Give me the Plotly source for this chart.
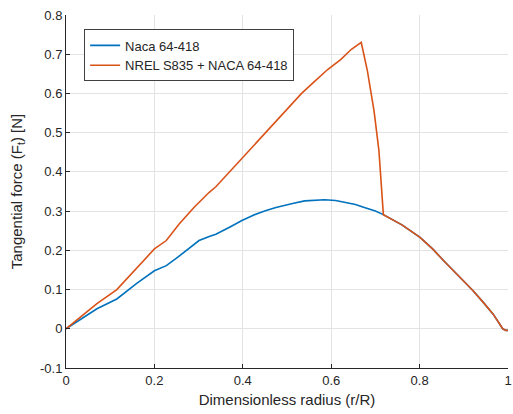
import plotly.graph_objects as go

# Naca 64-418
r_naca = [0, 0.04, 0.07, 0.115, 0.16, 0.2, 0.227, 0.25, 0.271, 0.301, 0.324, 0.339,
          0.37, 0.398, 0.425, 0.451, 0.475, 0.495, 0.515, 0.54, 0.565, 0.585, 0.61,
          0.63, 0.655, 0.675, 0.7, 0.718, 0.76, 0.801, 0.83, 0.854, 0.89, 0.921,
          0.945, 0.966, 0.98, 0.988, 0.995, 1.0]
ft_naca = [0, 0.028, 0.051, 0.076, 0.116, 0.148, 0.161, 0.18, 0.199, 0.225, 0.235, 0.241,
           0.259, 0.276, 0.290, 0.301, 0.309, 0.315, 0.320, 0.326, 0.328, 0.329, 0.327,
           0.322, 0.317, 0.309, 0.300, 0.291, 0.265, 0.233, 0.203, 0.174, 0.134, 0.097,
           0.066, 0.038, 0.014, 0.0, -0.004, -0.004]

# NREL S835 + NACA 64-418
r_hyb = [0, 0.04, 0.07, 0.115, 0.16, 0.2, 0.227, 0.256, 0.29, 0.324, 0.339, 0.37,
         0.402, 0.43, 0.451, 0.475, 0.495, 0.515, 0.533, 0.56, 0.592, 0.622, 0.645,
         0.668, 0.682, 0.697, 0.708, 0.718, 0.76, 0.801, 0.83, 0.854, 0.89, 0.921,
         0.945, 0.966, 0.98, 0.988, 0.995, 1.0]
ft_hyb = [0, 0.036, 0.064, 0.100, 0.155, 0.2035, 0.225, 0.267, 0.31, 0.348, 0.362, 0.40,
          0.441, 0.474, 0.500, 0.528, 0.555, 0.578, 0.600, 0.628, 0.661, 0.687, 0.712,
          0.730, 0.657, 0.555, 0.454, 0.291, 0.265, 0.233, 0.203, 0.174, 0.134, 0.097,
          0.066, 0.038, 0.014, 0.0, -0.004, -0.004]

x_ticks = [0, 0.2, 0.4, 0.6, 0.8, 1]
x_labels = ["0", "0.2", "0.4", "0.6", "0.8", "1"]
y_ticks = [-0.1, 0, 0.1, 0.2, 0.3, 0.4, 0.5, 0.6, 0.7, 0.8]
y_labels = ["-0.1", "0", "0.1", "0.2", "0.3", "0.4", "0.5", "0.6", "0.7", "0.8"]

fig = go.Figure()
fig.add_trace(go.Scatter(x=r_naca, y=ft_naca, mode="lines", name="Naca 64-418",
                         line=dict(color="#0072BD", width=1.6)))
fig.add_trace(go.Scatter(x=r_hyb, y=ft_hyb, mode="lines", name="NREL S835 + NACA 64-418",
                         line=dict(color="#D95319", width=1.6)))

axis_font = dict(family="Liberation Sans, Arial, sans-serif", size=13, color="#262626")
fig.update_layout(
    width=513, height=414,
    margin=dict(l=65.5, r=1, t=14.5, b=46),
    paper_bgcolor="white", plot_bgcolor="white",
    font=axis_font,
    showlegend=True,
    legend=dict(x=0.041, y=0.959, xanchor="left", yanchor="top",
                bgcolor="white", bordercolor="#404040", borderwidth=1,
                font=dict(family="Liberation Sans, Arial, sans-serif", size=13, color="#262626"),
                tracegroupgap=0),
    xaxis=dict(range=[0, 1], tickvals=x_ticks, ticktext=x_labels,
               showgrid=True, gridcolor="#e3e3e3", gridwidth=1,
               showline=True, linecolor="#262626", linewidth=1, mirror=False,
               ticks="inside", ticklen=4, tickcolor="#262626",
               zeroline=False, tickfont=dict(size=13), ticklabeloverflow="allow",
               title=dict(text="Dimensionless radius (r/R)", font=dict(size=15), standoff=7)),
    yaxis=dict(range=[-0.1, 0.8], tickvals=y_ticks, ticktext=y_labels,
               showgrid=True, gridcolor="#e3e3e3", gridwidth=1,
               showline=True, linecolor="#262626", linewidth=1, mirror=False,
               ticks="inside", ticklen=4, tickcolor="#262626",
               zeroline=False, tickfont=dict(size=13), ticklabeloverflow="allow",
               title=dict(text="Tangential force (F<sub>t</sub>) [N]", font=dict(size=15), standoff=13)),
)

fig.write_html("out.html")
